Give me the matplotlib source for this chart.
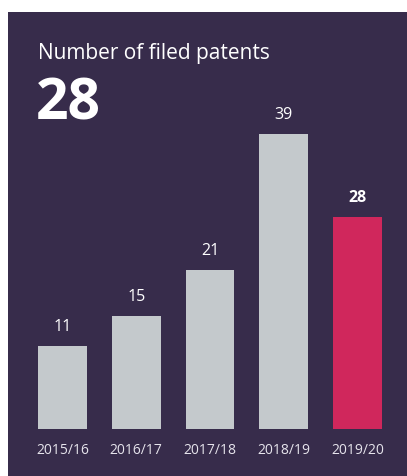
import matplotlib.pyplot as plt

# data
years = ["2015/16", "2016/17", "2017/18", "2018/19", "2019/20"]
patents = [11, 15, 21, 39, 28]
headline = "28"
title = "Number of filed patents"

bg = "#372c4b"
grey = "#c4c9cc"
red = "#d0275c"
plt.rcParams['font.family'] = ['Open Sans', 'DejaVu Sans']

W, H = 407, 476
fig = plt.figure(figsize=(W / 100, H / 100), dpi=100)
fig.patch.set_facecolor("white")

# dark panel as a background axes
panel = fig.add_axes([8 / W, 0, 1 - 8 / W, 1 - 12 / H])
panel.set_facecolor(bg)
panel.set_axis_off()
panel.add_artist(plt.Rectangle((0, 0), 1, 1, transform=panel.transAxes,
                               facecolor=bg, edgecolor="none"))

fig.text(38 / W, 1 - 54 / H, title, color="white", fontsize=15, va="center", ha="left")
fig.text(36 / W, 1 - 104 / H, headline, color="white", fontsize=41, fontweight="bold",
         va="center", ha="left")

# axes: left 25.5px, right 394.5px, bottom 429px, top 134px (=39)
ax = fig.add_axes([25.5 / W, (H - 429) / H, 369 / W, 295 / H])
ax.set_facecolor("none")
colors = [grey] * (len(years) - 1) + [red]
x = range(len(years))
ax.bar(x, patents, width=49 / 74, color=colors)
ax.set_xlim(-0.5, len(years) - 0.5)
ax.set_ylim(0, 39)

for i, v in enumerate(patents):
    last = i == len(years) - 1
    ax.annotate(str(v), (i, v), xytext=(0, 13.5), textcoords="offset points",
                ha="center", va="center", color="white", fontsize=11.5,
                fontweight="bold" if last else "normal")

ax.set_xticks(list(x))
ax.set_xticklabels(years, color="#e6e4ec", fontsize=10)
ax.tick_params(axis="x", length=0, pad=10)
ax.set_yticks([])
for s in ax.spines.values():
    s.set_visible(False)

fig.savefig("out.png", dpi=100)
